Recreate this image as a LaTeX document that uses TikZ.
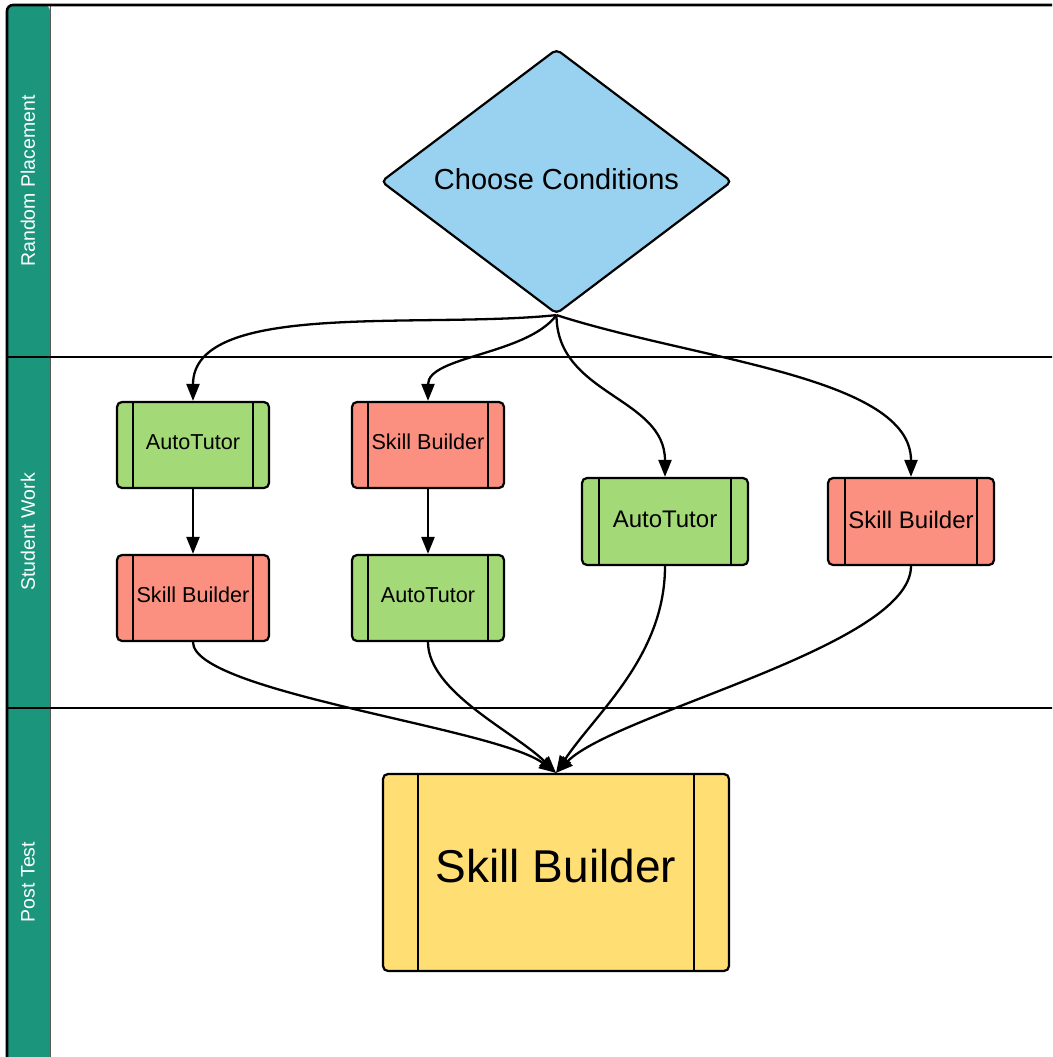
\documentclass[tikz,border=0pt]{standalone}
\usepackage{fontspec}
\setmainfont{Liberation Sans}
\usetikzlibrary{arrows.meta,shapes.geometric}

\definecolor{laneteal}{RGB}{27,150,125}
\definecolor{choiceblue}{RGB}{153,210,240}
\definecolor{tutorgreen}{RGB}{164,217,120}
\definecolor{builderred}{RGB}{251,143,128}
\definecolor{postyellow}{RGB}{255,222,116}

\tikzset{
  procbox/.style={draw,line width=2.2pt,rounded corners=5pt,inner sep=0pt,
    path picture={\draw[line width=2.2pt]
      ([xshift=#1]path picture bounding box.north west) -- ([xshift=#1]path picture bounding box.south west)
      ([xshift=-#1]path picture bounding box.north east) -- ([xshift=-#1]path picture bounding box.south east);}},
  procbox/.default=16pt,
  smallbox/.style={procbox,minimum width=152pt,minimum height=86pt,text depth=6pt,font=\fontsize{21.6}{26}\selectfont},
  widebox/.style={procbox=17pt,minimum width=166pt,minimum height=87pt,text depth=4pt,font=\fontsize{24}{28}\selectfont},
  lanelabel/.style={rotate=90,text=white,font=\fontsize{19.5}{23}\selectfont},
  flow/.style={line width=2.3pt,-{Triangle[length=17pt,width=13pt]}}
}

\begin{document}
\begin{tikzpicture}[x=1pt,y=1pt]
\useasboundingbox (0,0) rectangle (1052,-1057);
\clip (0,0) rectangle (1052,-1057);

% Swimlanes
\fill[laneteal,rounded corners=6pt] (7,-1070) -- (7,-5) -- (50,-5) [sharp corners] -- (50,-1070) -- cycle;
\draw[line width=1pt,black!65] (50,-5) -- (50,-1070);
\draw[line width=2.6pt,rounded corners=6pt] (1060,-5) -- (7,-5) -- (7,-1070);
\draw[line width=2.2pt] (7,-357) -- (1060,-357);
\draw[line width=2.2pt] (7,-708) -- (1060,-708);

% Lane labels
\node[lanelabel] (lane1) at (28,-181) {Random Placement};
\node[lanelabel] (lane2) at (28,-532) {Student Work};
\node[lanelabel] (lane3) at (28,-882) {Post Test};

% Choice
\node[diamond,aspect=1.33,draw,line width=2.2pt,fill=choiceblue,rounded corners=5pt,inner sep=0pt,text depth=6pt,
  minimum width=351pt,minimum height=265pt,font=\fontsize{29}{34}\selectfont] (choose) at (556.5,-181.5) {Choose Conditions};

% Student work
\node[smallbox,fill=tutorgreen] (at1) at (193,-445) {AutoTutor};
\node[smallbox,fill=builderred] (sb1) at (193,-598) {Skill Builder};
\node[smallbox,fill=builderred] (sb2) at (428,-445) {Skill Builder};
\node[smallbox,fill=tutorgreen] (at2) at (428,-598) {AutoTutor};
\node[widebox,fill=tutorgreen] (at3) at (665,-521.5) {AutoTutor};
\node[widebox,fill=builderred] (sb4) at (911,-521.5) {Skill Builder};

% Post test
\node[procbox=35pt,fill=postyellow,minimum width=346pt,minimum height=197pt,text depth=13pt,
  font=\fontsize{46}{52}\selectfont] (post) at (556,-872.5) {Skill Builder};

% Placement arrows
\draw[flow] (choose.south) .. controls +(-136,-14) and +(0,101) .. (at1.north);
\draw[flow] (choose.south) .. controls +(-30,-40) and +(0,45) .. (sb2.north);
\draw[flow] (choose.south) .. controls +(0,-80) and +(0,80) .. (at3.north);
\draw[flow] (choose.south) .. controls +(140,-45) and +(0,100) .. (sb4.north);

% Sequence arrows
\draw[flow] (at1.south) -- (sb1.north);
\draw[flow] (sb2.south) -- (at2.north);

% Post test arrows
\draw[flow] (sb1.south) .. controls +(0,-50) and +(-60,45) .. (post.north);
\draw[flow] (at2.south) .. controls +(0,-50) and +(-40,40) .. (post.north);
\draw[flow] (at3.south) .. controls +(0,-90) and +(40,60) .. (post.north);
\draw[flow] (sb4.south) .. controls +(0,-80) and +(60,60) .. (post.north);
\end{tikzpicture}
\end{document}
